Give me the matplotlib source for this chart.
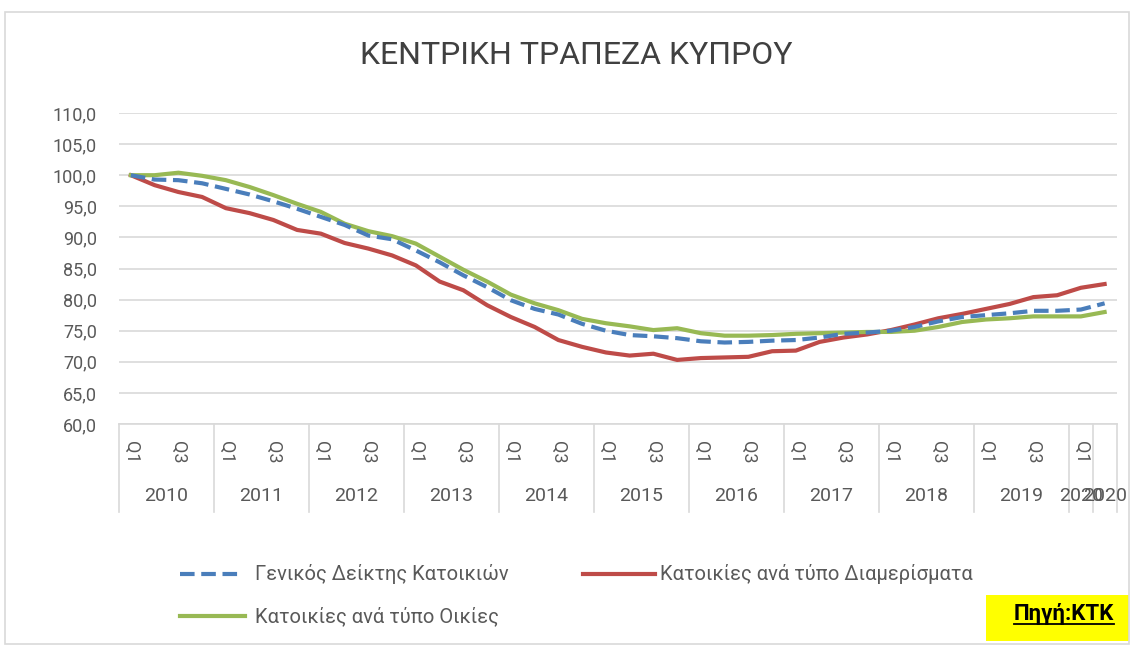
import matplotlib.pyplot as plt
from matplotlib.lines import Line2D
from matplotlib.patches import Rectangle
import numpy as np

plt.rcParams['font.family'] = ['Roboto', 'DejaVu Sans']

# quarterly data 2010 Q1 .. 2020 Q2
years = [str(y) for y in range(2010, 2020)] + ['2020', '2020']
year_sizes = [4] * 10 + [1, 1]
quarters = []
for y in range(2010, 2020):
    quarters += ['Q1', 'Q2', 'Q3', 'Q4']
quarters += ['Q1', 'Q2']

general = [100.0, 99.3, 99.2, 98.7, 97.8, 96.9, 95.8, 94.6, 93.3, 92.0,
           90.3, 89.7, 87.9, 86.0, 83.9, 82.0, 79.9, 78.5, 77.6, 76.1,
           75.0, 74.3, 74.1, 73.8, 73.3, 73.1, 73.2, 73.4, 73.5, 73.9,
           74.5, 74.7, 75.0, 75.6, 76.5, 77.2, 77.5, 77.8, 78.2, 78.2,
           78.4, 79.4]
apartments = [100.0, 98.4, 97.3, 96.5, 94.7, 93.9, 92.8, 91.2, 90.6, 89.1,
              88.2, 87.1, 85.5, 82.9, 81.5, 79.1, 77.2, 75.6, 73.5, 72.4,
              71.5, 71.0, 71.3, 70.3, 70.6, 70.7, 70.8, 71.7, 71.8, 73.2,
              73.9, 74.4, 75.1, 76.0, 77.0, 77.7, 78.5, 79.3, 80.4, 80.7,
              81.9, 82.5]
houses = [100.0, 100.0, 100.4, 99.9, 99.2, 98.1, 96.8, 95.4, 94.1, 92.2,
          91.0, 90.2, 89.0, 86.9, 84.8, 82.9, 80.8, 79.4, 78.3, 76.9,
          76.2, 75.7, 75.1, 75.4, 74.6, 74.2, 74.2, 74.3, 74.5, 74.6,
          74.7, 74.8, 74.8, 75.0, 75.6, 76.4, 76.8, 77.0, 77.3, 77.3,
          77.3, 78.0]

labels = ['Γενικός Δείκτης Κατοικιών', 'Κατοικίες ανά τύπο Διαμερίσματα',
          'Κατοικίες ανά τύπο Οικίες']
c_blue = '#4A7EBB'
c_red = '#BE4B48'
c_green = '#98B954'
grey_txt = '#595959'
grid_c = '#D9D9D9'

W, H = 1132, 646
fig = plt.figure(figsize=(W / 100, H / 100), dpi=100)
ax = fig.add_axes([119 / W, 1 - 424 / H, (1116.5 - 119) / W, (424 - 113) / H])

x = np.arange(len(general))
lw = 3.0
ax.plot(x, apartments, color=c_red, lw=lw, solid_joinstyle='round', zorder=3)
ax.plot(x, houses, color=c_green, lw=lw, solid_joinstyle='round', zorder=4)
ax.plot(x, general, color=c_blue, lw=lw, dashes=(3.5, 1.6), zorder=5)

ax.set_xlim(-0.5, len(general) - 0.5)
ax.set_ylim(60, 110)
ax.set_yticks(np.arange(60, 111, 5))
ax.set_yticklabels([('%.1f' % v).replace('.', ',') for v in np.arange(60, 111, 5)],
                   fontsize=13, color=grey_txt)
ax.yaxis.grid(True, color=grid_c, lw=1.2)
ax.set_axisbelow(True)
for s in ['left', 'right', 'top']:
    ax.spines[s].set_visible(False)
ax.spines['bottom'].set_color(grid_c)
ax.spines['bottom'].set_linewidth(1.2)
ax.tick_params(axis='y', length=0, pad=16)

qpos = [i for i, q in enumerate(quarters) if q in ('Q1', 'Q3')]
ax.set_xticks(qpos)
ax.set_xticklabels([quarters[i] for i in qpos], rotation=-90, fontsize=13,
                   color=grey_txt, va='top', ha='center')
ax.tick_params(axis='x', length=0, pad=12)

# year groups
trans = ax.get_xaxis_transform()
sep_bottom = -(512 - 424) / (424 - 113)
start = 0
bounds = [-0.5]
for yr, n in zip(years, year_sizes):
    ax.text(start + (n - 1) / 2, -(496 - 424) / (424 - 113), yr, transform=trans,
            ha='center', va='center', fontsize=14, color=grey_txt)
    start += n
    bounds.append(start - 0.5)
for b in bounds:
    ax.plot([b, b], [0, sep_bottom], transform=trans, color=grid_c, lw=1.2,
            clip_on=False)

# title
fig.text(576 / W, 1 - 56 / H, 'ΚΕΝΤΡΙΚΗ ΤΡΑΠΕΖΑ ΚΥΠΡΟΥ', ha='center', va='center',
         fontsize=23, color='#404040',
         family=['Liberation Sans Narrow', 'Roboto', 'DejaVu Sans'])

# legend
def leg(x0, x1, y, color, text, gap, dashed=False):
    ln = Line2D([x0 / W, x1 / W], [1 - y / H, 1 - y / H], transform=fig.transFigure,
                color=color, lw=lw)
    if dashed:
        ln.set_dashes((3.5, 1.6))
    fig.add_artist(ln)
    fig.text((x1 + gap) / W, 1 - y / H, text, ha='left', va='center', fontsize=14.5,
             color=grey_txt)

leg(180, 243, 574, c_blue, labels[0], 12, dashed=True)
leg(583, 655, 574, c_red, labels[1], 5)
leg(180, 245, 616, c_green, labels[2], 10)

# source box
fig.add_artist(Rectangle((986 / W, 1 - 641 / H), 143 / W, 46 / H,
                         transform=fig.transFigure, facecolor='#FFFF00',
                         edgecolor='none'))
src = fig.text(1064 / W, 1 - 614 / H, 'Πηγή:ΚΤΚ', ha='center', va='center',
               fontsize=16, fontweight='bold', color='black')
fig.canvas.draw()
bb = src.get_window_extent().transformed(fig.transFigure.inverted())
fig.add_artist(Line2D([bb.x0, bb.x1], [bb.y0 + 1 / H, bb.y0 + 1 / H],
                      transform=fig.transFigure, color='black', lw=1.3))

# outer frame
fig.add_artist(Rectangle((5 / W, 2 / H), 1124 / W, (H - 14) / H,
                         transform=fig.transFigure, facecolor='none',
                         edgecolor='#D9D9D9', lw=1.2))

fig.savefig('out.png', dpi=100)
